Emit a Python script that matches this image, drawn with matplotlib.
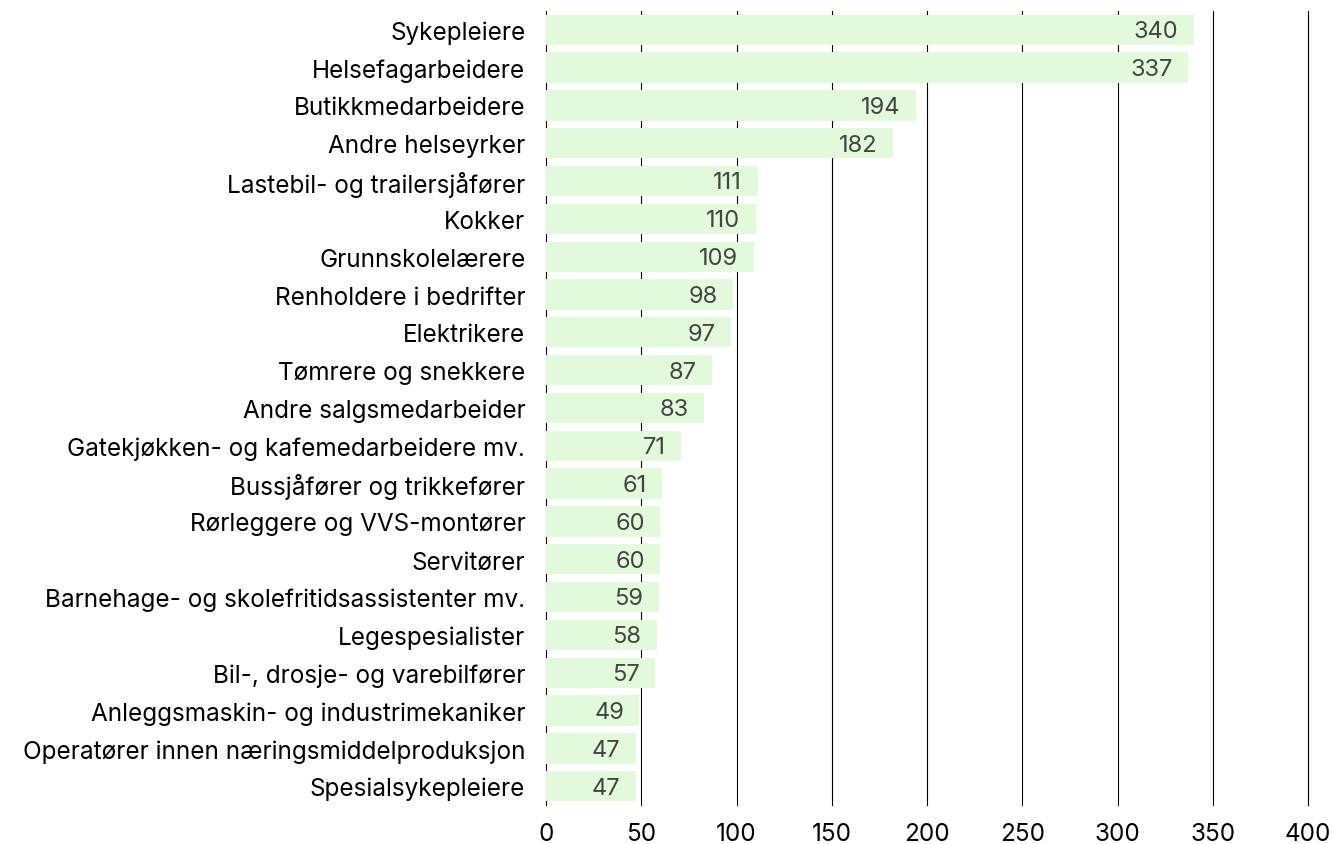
import matplotlib.pyplot as plt

# occupations and counts, top to bottom
occupations = [
    'Sykepleiere', 'Helsefagarbeidere', 'Butikkmedarbeidere', 'Andre helseyrker',
    'Lastebil- og trailersjåfører', 'Kokker', 'Grunnskolelærere', 'Renholdere i bedrifter',
    'Elektrikere', 'Tømrere og snekkere', 'Andre salgsmedarbeider',
    'Gatekjøkken- og kafemedarbeidere mv.', 'Bussjåfører og trikkefører',
    'Rørleggere og VVS-montører', 'Servitører', 'Barnehage- og skolefritidsassistenter mv.',
    'Legespesialister', 'Bil-, drosje- og varebilfører', 'Anleggsmaskin- og industrimekaniker',
    'Operatører innen næringsmiddelproduksjon', 'Spesialsykepleiere',
]
counts = [340, 337, 194, 182, 111, 110, 109, 98, 97, 87, 83, 71, 61, 60, 60, 59, 58, 57, 49, 47, 47]
x_ticks = [0, 50, 100, 150, 200, 250, 300, 350, 400]

plt.rcParams['font.family'] = ['Inter', 'DejaVu Sans']

fig = plt.figure(figsize=(13.32, 8.45), dpi=100)
ax = fig.add_axes([0.41, 0.046, 0.572, 0.940])

ypos = list(range(len(occupations)))
ax.barh(ypos, counts, height=0.8, color='#e3f9dc', zorder=2)

# value labels inside the bar ends
for y, v in zip(ypos, counts):
    ax.annotate(str(v), (v, y), xytext=(-11, -1), textcoords='offset points',
                ha='right', va='center', fontsize=17, color='#444444', zorder=3)

ax.set_yticks(ypos)
ax.set_yticklabels(occupations, fontsize=17.5)
ax.set_xticks(x_ticks)
ax.set_xticklabels([str(t) for t in x_ticks], fontsize=17.5)
ax.set_xlim(0, 400)
ax.set_ylim(len(occupations) - 0.5, -0.5)

ax.grid(axis='x', color='black', linewidth=0.8, zorder=0)
for gl in ax.get_xgridlines():
    gl.set_clip_on(False)  # keep the 400 line visible at the edge
ax.set_axisbelow(True)
for s in ax.spines.values():
    s.set_visible(False)
ax.tick_params(axis='both', length=0)
ax.tick_params(axis='x', pad=12)
ax.tick_params(axis='y', pad=15)

plt.savefig('out.png', dpi=100)
